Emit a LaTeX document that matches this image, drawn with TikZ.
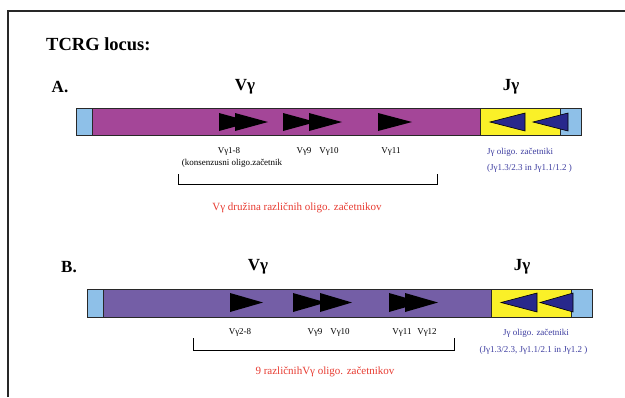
\documentclass[tikz,border=0pt]{standalone}
\usepackage{fontspec}
\setmainfont{Liberation Serif}
\definecolor{capblue}{RGB}{142,192,232}
\definecolor{vmagenta}{RGB}{164,70,152}
\definecolor{vpurple}{RGB}{116,94,166}
\definecolor{jyellow}{RGB}{250,240,40}
\definecolor{jnavy}{RGB}{40,40,140}
\definecolor{lblred}{RGB}{232,60,50}
\definecolor{lblblue}{RGB}{60,60,160}
\definecolor{framegray}{RGB}{40,40,40}
\tikzset{
  segline/.style={draw=framegray,line width=1pt},
  vtri/.style={fill=black},
  jtri/.style={fill=jnavy,draw=black,line width=0.6pt},
  title/.style={font=\fontsize{18.5}{20}\selectfont\bfseries,inner sep=0pt},
  head/.style={font=\fontsize{17}{18}\selectfont\bfseries,inner sep=0pt},
  small/.style={font=\fontsize{9}{10}\selectfont,inner sep=0pt},
  jlabel/.style={small,text=lblblue},
  famlabel/.style={font=\fontsize{11}{12}\selectfont,text=lblred,inner sep=0pt},
  brace/.style={draw=black,line width=0.9pt}
}
% right-pointing V primer: left x, tip x, top y, bottom y
\newcommand\vprimer[4]{\fill[vtri] (#1,#3) -- (#2,{(#3+#4)/2}) -- (#1,#4) -- cycle;}
% left-pointing J primer: tip x, base x, top y, bottom y
\newcommand\jprimer[4]{\filldraw[jtri] (#2,#3) -- (#1,{(#3+#4)/2}) -- (#2,#4) -- cycle;}
\begin{document}
\begin{tikzpicture}[x=1pt,y=-1pt]
\useasboundingbox (0,0) rectangle (625,397);
\fill[white] (0,0) rectangle (625,397);
% outer frame (top and left edges)
\draw[framegray,line width=1.3pt] (8,397) -- (8,11) -- (625,11);

\node[title,anchor=west] (ttl) at (46,44) {TCRG locus:};

% ---------------- A ----------------
\node[head] (la) at (60,87) {A.};
\node[head] (va) at (245,87) {Vγ};
\node[head] (ja) at (511,87) {Jγ};

\fill[capblue] (76,108) rectangle (92,135);
\fill[vmagenta] (92,108) rectangle (480,135);
\fill[jyellow] (480,108) rectangle (560,135);
\fill[capblue] (560,108) rectangle (581,135);
\draw[segline] (76,108) rectangle (581,135);
\draw[segline] (92,108) -- (92,135) (480,108) -- (480,135) (560,108) -- (560,135);

\vprimer{219}{252}{113}{131}
\vprimer{235}{268}{113}{131}
\vprimer{283}{316}{113}{131}
\vprimer{309}{342}{113}{131}
\vprimer{378}{412}{113}{131}
\jprimer{490}{525}{113}{131}
\jprimer{533}{568}{113}{131}

\node[small] (a18) at (229,151) {Vγ1-8};
\node[small] (akons) at (232,163) {(konsenzusni oligo.začetnik};
\node[small] (a9) at (304,151) {Vγ9};
\node[small] (a10) at (329,151) {Vγ10};
\node[small] (a11) at (391,151) {Vγ11};
\node[jlabel,anchor=west] (aj1) at (487,152) {Jγ oligo. začetniki};
\node[jlabel,anchor=west] (aj2) at (487,168) {(Jγ1.3/2.3 in Jγ1.1/1.2 )};

\coordinate (abl) at (178,174);
\coordinate (abr) at (437,174);
\draw[brace] (abl) -- ++(0,10) -| (abr);
\node[famlabel] (afam) at (297,208) {Vγ družina različnih oligo. začetnikov};

% ---------------- B ----------------
\node[head] (lb) at (69,267) {B.};
\node[head] (vb) at (258,267) {Vγ};
\node[head] (jb) at (522,267) {Jγ};

\fill[capblue] (87,289) rectangle (103,317);
\fill[vpurple] (103,289) rectangle (491,317);
\fill[jyellow] (491,289) rectangle (571,317);
\fill[capblue] (571,289) rectangle (592,317);
\draw[segline] (87,289) rectangle (592,317);
\draw[segline] (103,289) -- (103,317) (491,289) -- (491,317) (571,289) -- (571,317);

\vprimer{230}{263}{293}{312}
\vprimer{293}{326}{293}{312}
\vprimer{320}{352}{293}{312}
\vprimer{389}{422}{293}{312}
\vprimer{405}{438}{293}{312}
\jprimer{501}{537}{293}{312}
\jprimer{540}{573}{293}{312}

\node[small] (b28) at (240,332) {Vγ2-8};
\node[small] (b9) at (315,332) {Vγ9};
\node[small] (b10) at (340,332) {Vγ10};
\node[small] (b11) at (402,332) {Vγ11};
\node[small] (b12) at (427,332) {Vγ12};
\node[jlabel] (bj1) at (536,333) {Jγ oligo. začetniki};
\node[jlabel] (bj2) at (533.5,350) {(Jγ1.3/2.3, Jγ1.1/2.1 in Jγ1.2 )};

\coordinate (bbl) at (193,338);
\coordinate (bbr) at (454,338);
\draw[brace] (bbl) -- ++(0,12) -| (bbr);
\node[famlabel] (bfam) at (325,372) {9 različnihVγ oligo. začetnikov};
\end{tikzpicture}
\end{document}
